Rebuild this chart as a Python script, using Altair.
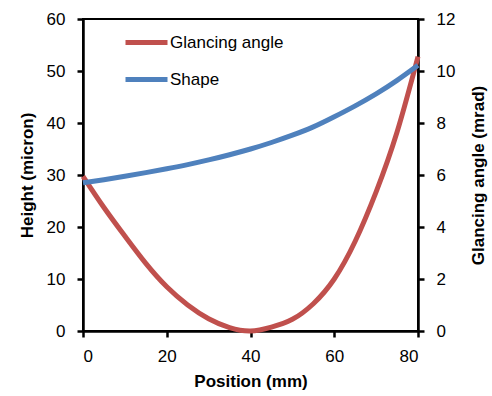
import altair as alt
import pandas as pd

position = [0, 5, 10, 15, 20, 25, 30, 35, 40, 45, 50, 55, 60, 65, 70, 75, 80]
glancing_angle = [5.95, 4.75, 3.65, 2.6, 1.7, 1.0, 0.47, 0.13, 0.0, 0.15, 0.45, 1.05, 2.0, 3.45, 5.35, 7.65, 10.55]
shape = [28.5, 29.1, 29.75, 30.45, 31.2, 32.0, 32.9, 33.9, 35.0, 36.25, 37.65, 39.25, 41.2, 43.3, 45.6, 48.2, 51.1]
series_names = ["Glancing angle", "Shape"]
series_colors = ["#C0504D", "#4F81BD"]

df_angle = pd.DataFrame({"x": position, "y": glancing_angle, "series": series_names[0]})
df_shape = pd.DataFrame({"x": position, "y": shape, "series": series_names[1]})

FONT = "Liberation Sans"

xenc = alt.X("x:Q", scale=alt.Scale(domain=[0, 80], nice=False),
             axis=alt.Axis(title="Position (mm)", values=[0, 20, 40, 60, 80]))

color = alt.Color("series:N", scale=alt.Scale(domain=series_names, range=series_colors),
                  legend=alt.Legend(title=None, orient="none", legendX=40, legendY=0,
                                    symbolType="stroke", symbolSize=1764, symbolStrokeWidth=5,
                                    labelFontSize=17, labelFont=FONT, labelColor="black",
                                    rowPadding=3, labelOffset=0, padding=0))

angle = alt.Chart(df_angle).mark_line(strokeWidth=5, interpolate="natural").encode(
    x=xenc,
    y=alt.Y("y:Q", scale=alt.Scale(domain=[0, 12], nice=False),
            axis=alt.Axis(title="Glancing angle (mrad)", orient="right", values=[0, 2, 4, 6, 8, 10, 12],
                          titleAngle=270, titleX=60, titleY=156, titleBaseline="middle")),
    color=color,
)

shape_line = alt.Chart(df_shape).mark_line(strokeWidth=5, interpolate="natural").encode(
    x=xenc,
    y=alt.Y("y:Q", scale=alt.Scale(domain=[0, 60], nice=False),
            axis=alt.Axis(title="Height (micron)", orient="left", values=[0, 10, 20, 30, 40, 50, 60],
                          titleX=-56, titleY=156, titleBaseline="middle")),
    color=color,
)

chart = alt.layer(angle, shape_line).resolve_scale(y="independent").properties(
    width=335, height=312,
    autosize=alt.AutoSizeParams(type="none"),
    padding={"left": 83, "top": 19, "right": 74, "bottom": 65},
    background="white",
).configure_view(
    stroke="black", strokeWidth=2
).configure_axis(
    grid=False, domainColor="black", domainWidth=2.5, tickColor="black", tickWidth=2.5,
    tickSize=6, labelFont=FONT, labelFontSize=17, labelColor="black", labelPadding=12,
    titleFont=FONT, titleFontSize=17, titleFontWeight="bold", titleColor="black",
).configure_axisX(titlePadding=9, labelPadding=11)

chart.save("out.html", embed_options={"renderer": "svg", "actions": False})
